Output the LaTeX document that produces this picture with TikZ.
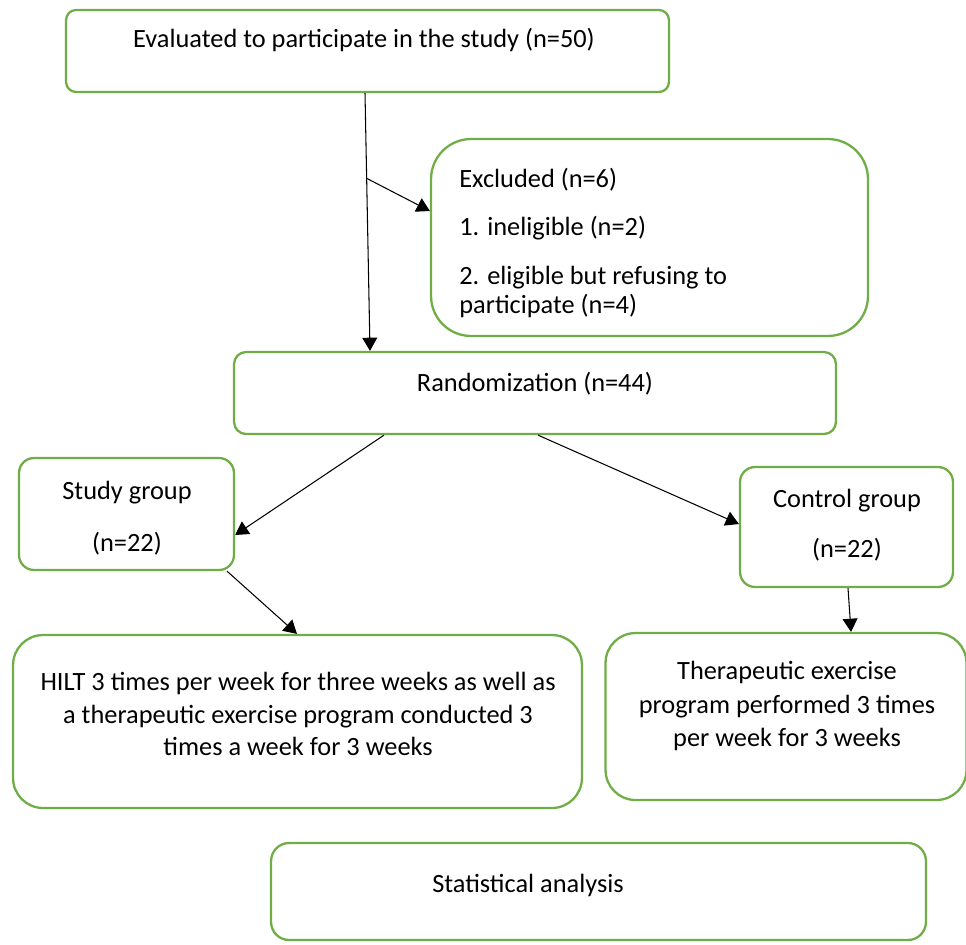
\documentclass[tikz,border=0pt]{standalone}
\usepackage{fontspec}
\setmainfont{Carlito}
\usetikzlibrary{arrows.meta}
\definecolor{boxgreen}{RGB}{112,173,71}

\begin{document}
\begin{tikzpicture}[x=0.02cm, y=-0.02cm,
    box/.style={rectangle, draw=boxgreen, line width=1.3pt, rounded corners=#1},
    box/.default=0.2cm,
    txt/.style={font=\fontsize{15}{16.5}\selectfont, inner sep=0pt},
    arr/.style={-{Triangle[length=7.5pt,width=8.5pt]}, line width=0.6pt}]

      \useasboundingbox (0,0) rectangle (966,944);

      \node[box, minimum width=12.06cm, minimum height=1.64cm] at (367.5,51) (eval) {};
      \node[txt] at (364,40) (eval text) {Evaluated to participate in the study (n=50)};

      \node[box=0.8cm, minimum width=8.74cm, minimum height=3.94cm] at (649.5,237.5) (excl) {};
      \node[txt, align=left, anchor=base west] at (459,313) (excl text)
        {Excluded (n=6)\\[11pt] 1. ineligible (n=2)\\[11pt] 2. eligible but refusing to\\ participate (n=4)};

      \node[box=0.24cm, minimum width=12.04cm, minimum height=1.64cm] at (535,393) (rand) {};
      \node[txt] at (535,384) (rand text) {Randomization (n=44)};

      \node[box=0.3cm, minimum width=4.30cm, minimum height=2.24cm] at (126.5,514) (study) {};
      \node[txt, align=center] at (127,518) (study text) {Study group\\[13pt] (n=22)};

      \node[box=0.3cm, minimum width=4.26cm, minimum height=2.40cm] at (846.5,527) (control) {};
      \node[txt, align=center] at (847,525) (control text) {Control group\\[12pt] (n=22)};

      \node[box=0.6cm, minimum width=11.38cm, minimum height=3.46cm] at (297.5,721.5) (hilt) {};
      \node[txt, align=center, font=\fontsize{15}{18.7}\selectfont] at (298,714) (hilt text)
        {HILT 3 times per week for three weeks as well as\\ a therapeutic exercise program conducted 3\\ times a week for 3 weeks};

      \node[box=0.6cm, minimum width=7.22cm, minimum height=3.34cm] at (786,716.5) (thera) {};
      \node[txt, align=center, font=\fontsize{15}{19.3}\selectfont] at (787,706) (thera text)
        {Therapeutic exercise\\ program performed 3 times\\ per week for 3 weeks};

      \node[box=0.36cm, minimum width=13.10cm, minimum height=1.94cm] at (598.5,891.5) (stat) {};
      \node[txt] at (528,885) (stat text) {Statistical analysis};

      \coordinate (split) at (366,178);

      \draw[arr] (365,0 |- eval.south) -- (370,0 |- rand.north);
      \draw[arr] (split) -- (excl.west |- 0,211);
      \draw[arr] (384,0 |- rand.south) -- (study.east |- 0,535);
      \draw[arr] (538,0 |- rand.south) -- (control.west |- 0,524);
      \draw[arr] (227,0 |- study.south) -- (297,0 |- hilt.north);
      \draw[arr] (848,0 |- control.south) -- (851,0 |- thera.north);
    \end{tikzpicture}
\end{document}
